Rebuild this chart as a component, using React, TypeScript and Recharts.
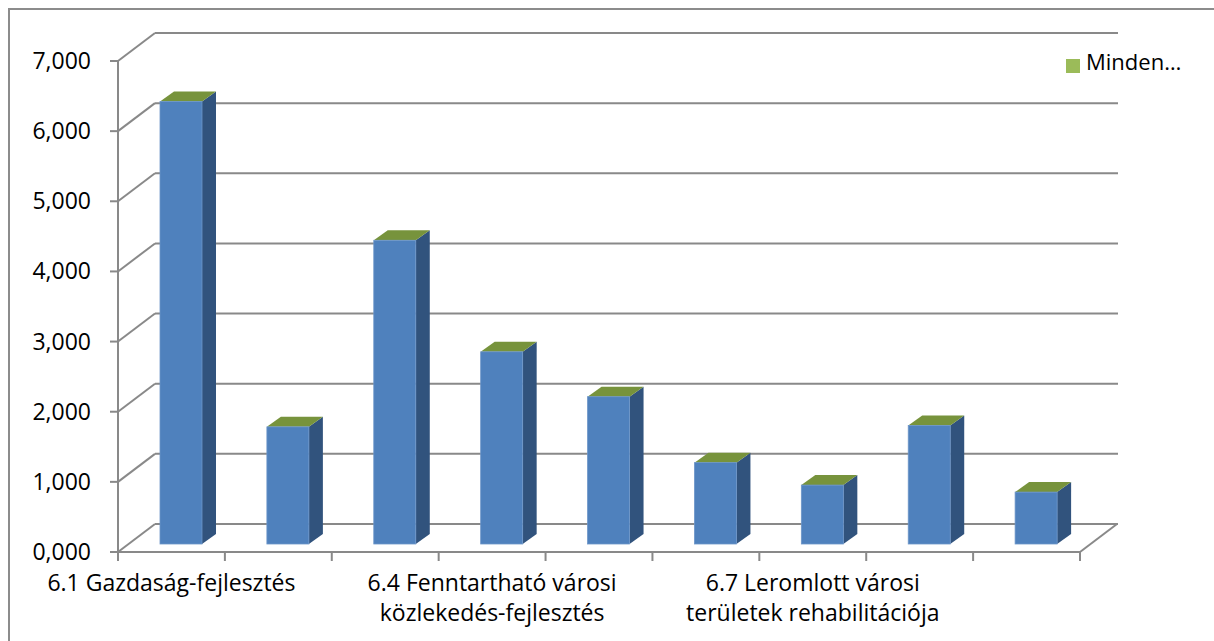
import React from 'react';
import { BarChart, Bar, XAxis, YAxis, CartesianGrid, Legend } from 'recharts';

const categories = [
  '6.1 Gazdaság-fejlesztés',
  '6.2 Családbarát, munkába állást segítő intézmények',
  '6.3 Városi környezet fejlesztése',
  '6.4 Fenntartható városi közlekedés-fejlesztés',
  '6.5 Energiahatékonyság',
  '6.6 Egészségügyi és szociális alapellátás',
  '6.7 Leromlott városi területek rehabilitációja',
  '6.8 Helyi foglalkoztatási együttműködések',
  '6.9 Társadalmi kohézió',
];
const values = [6.31, 1.67, 4.33, 2.74, 2.1, 1.16, 0.84, 1.69, 0.74];
const yTicks = [0, 1, 2, 3, 4, 5, 6, 7];
const seriesName = 'Minden…';

const data = categories.map((c, i) => ({ name: c, value: values[i] }));

const W = 1214;
const H = 641;
const M_LEFT = 128;
const M_RIGHT = 124;
const M_TOP = 53;
const M_BOTTOM = 97;
const PLOT_W = W - M_LEFT - M_RIGHT;
const PLOT_BOTTOM = H - M_BOTTOM;
const BAND = PLOT_W / categories.length;

// 3D plane offsets relative to the bar plane
const FX = -10, FY = 8; // front plane
const BX = 27, BY = -20; // back wall
const DX = 14, DY = 10; // bar depth

const GRID = '#898989';
const FONT = '"Open Sans", Lato, sans-serif';
const TXT = '#000';

const fmt = (v: number) => v.toFixed(3).replace('.', ',');

const Bar3D = (props: any) => {
  const { x, y, width, height } = props;
  if (width == null || height == null) return null;
  const x2 = x + width;
  const yb = y + height;
  return (
    <g>
      <polygon
        points={`${x2},${yb} ${x2 + DX},${yb - DY} ${x2 + DX},${y - DY} ${x2},${y}`}
        fill="#31537d"
      />
      <polygon
        points={`${x},${y} ${x + DX},${y - DY} ${x2 + DX},${y - DY} ${x2},${y}`}
        fill="#77933c"
      />
      <rect x={x} y={y} width={width} height={height} fill="#4f81bd" stroke="#6d96c9" strokeWidth={0.8} />
    </g>
  );
};

const YTick = (props: any) => {
  const { y, payload } = props;
  const fy = y + FY;
  const ax = M_LEFT + FX;
  return (
    <g>
      <line x1={ax - 8} y1={fy} x2={ax} y2={fy} stroke={GRID} strokeWidth={2} />
      <line x1={ax} y1={fy} x2={M_LEFT + BX} y2={y + BY} stroke={GRID} strokeWidth={2} />
      <text x={ax - 27} y={fy + 8} textAnchor="end" fontSize={23} fontFamily={FONT} fill={TXT}>
        {fmt(payload.value)}
      </text>
    </g>
  );
};

const wrap = (s: string, max: number) => {
  const words = s.split(' ');
  const lines: string[] = [];
  let cur = '';
  words.forEach((w) => {
    const next = cur ? cur + ' ' + w : w;
    if (next.length > max && cur) {
      lines.push(cur);
      cur = w;
    } else cur = next;
  });
  if (cur) lines.push(cur);
  return lines;
};

const XTick = (props: any) => {
  const { x, payload, index } = props;
  const fx = x + FX;
  const fy = PLOT_BOTTOM + FY;
  const left = fx - BAND / 2;
  const right = fx + BAND / 2;
  const last = index === categories.length - 1;
  const lines = index % 3 === 0 ? wrap(String(payload.value), 26) : [];
  return (
    <g>
      <line x1={left} y1={fy} x2={left} y2={fy + 9} stroke={GRID} strokeWidth={2} />
      {last && (
        <g>
          <line x1={right} y1={fy} x2={right} y2={fy + 9} stroke={GRID} strokeWidth={2} />
          <line x1={right} y1={fy} x2={right - FX + BX} y2={PLOT_BOTTOM + BY} stroke={GRID} strokeWidth={2} />
        </g>
      )}
      {lines.map((l, i) => (
        <text key={i} x={fx} y={fy + 39 + i * 30} textAnchor="middle" fontSize={23} fontFamily={FONT} fill={TXT}>
          {l}
        </text>
      ))}
    </g>
  );
};

const backLine = (p: any) => (
  <line
    key={`bl-${p.index}-${p.y1}`}
    x1={p.x1 + BX}
    y1={p.y1 + BY}
    x2={p.x2 + BX + 1}
    y2={p.y2 + BY}
    stroke={GRID}
    strokeWidth={2}
  />
);

export default function App() {
  return (
    <div style={{ position: 'absolute', left: 0, top: 0, width: W, height: H, overflow: 'hidden', background: '#fff' }}>
      <div
        style={{
          position: 'absolute',
          left: 8,
          top: 8,
          width: W + 50,
          height: H + 50,
          border: '2px solid #8c8c8c',
          boxSizing: 'border-box',
        }}
      />
      <div style={{ position: 'absolute', left: 0, top: 0 }}>
        <BarChart width={W} height={H} data={data} margin={{ top: M_TOP, right: M_RIGHT, bottom: 0, left: 0 }}>
          <CartesianGrid vertical={false} horizontal={backLine} />
          <XAxis
            dataKey="name"
            height={M_BOTTOM}
            interval={0}
            tickLine={false}
            axisLine={{ stroke: GRID, strokeWidth: 2, transform: `translate(${FX},${FY})` }}
            tick={(p: any) => <XTick {...p} />}
          />
          <YAxis
            width={M_LEFT}
            domain={[0, 7]}
            ticks={yTicks}
            interval={0}
            tickLine={false}
            axisLine={{ stroke: GRID, strokeWidth: 2, transform: `translate(${FX},${FY})` }}
            tick={(p: any) => <YTick {...p} />}
          />
          <Legend
            layout="vertical"
            align="center"
            verticalAlign="middle"
            iconType="square"
            iconSize={14}
            wrapperStyle={{ left: 1066, top: 46, width: 'auto' }}
            formatter={(v: any) => (
              <span style={{ color: TXT, fontSize: 22, fontFamily: FONT, marginLeft: 2 }}>{v}</span>
            )}
          />
          <Bar
            dataKey="value"
            name={seriesName}
            fill="#9bbb59"
            barSize={42}
            isAnimationActive={false}
            shape={(p: any) => <Bar3D {...p} />}
          />
        </BarChart>
      </div>
    </div>
  );
}
